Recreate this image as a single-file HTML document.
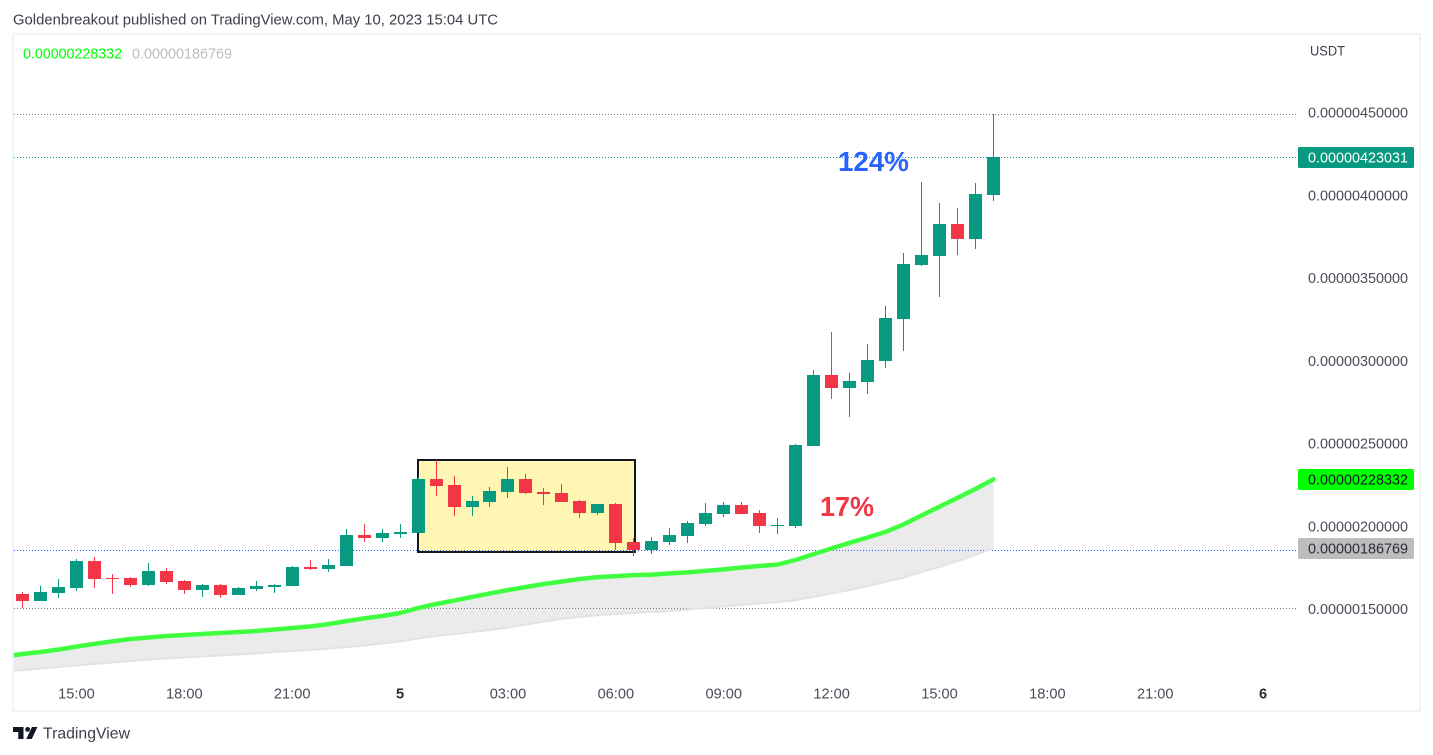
<!DOCTYPE html>
<html lang="en">
<head>
<meta charset="utf-8">
<title>TradingView chart</title>
<style>
html,body{margin:0;padding:0;background:#fff;width:1433px;height:755px;overflow:hidden}
svg{display:block;font-family:"Liberation Sans",sans-serif}
</style>
</head>
<body>
<svg id="chart" xmlns="http://www.w3.org/2000/svg" width="1433" height="755" viewBox="0 0 1433 755">
  <defs>
    <clipPath id="plot-clip"><rect x="14" y="35" width="1284" height="675"/></clipPath>
  </defs>
  <rect x="0" y="0" width="1433" height="755" fill="#ffffff"/>
  <text x="13" y="24.5" font-size="14.6" fill="#3d404a" textLength="485" lengthAdjust="spacingAndGlyphs">Goldenbreakout published on TradingView.com, May 10, 2023 15:04 UTC</text>
  <rect x="13" y="34" width="1407" height="677" fill="none" stroke="#f0f3fa" stroke-width="2"/>
  <text x="23" y="58.5" font-size="14.4" fill="#00ff00" textLength="99" lengthAdjust="spacingAndGlyphs">0.00000228332</text>
  <text x="132" y="58.5" font-size="14.4" fill="#bcbcbc" textLength="100" lengthAdjust="spacingAndGlyphs">0.00000186769</text>
  <text x="1310" y="55.5" font-size="14" fill="#3d404a" textLength="35" lengthAdjust="spacingAndGlyphs">USDT</text>
  <g id="layer-fill" clip-path="url(#plot-clip)"></g>
  <g id="layer-box"></g>
  <g id="layer-lines"></g>
  <g id="layer-candles"></g>
  <g id="layer-ma" clip-path="url(#plot-clip)"></g>
  <text x="838" y="171" font-size="28" font-weight="bold" fill="#2962ff" textLength="71" lengthAdjust="spacingAndGlyphs">124%</text>
  <text x="820" y="516" font-size="28" font-weight="bold" fill="#f23645" textLength="54" lengthAdjust="spacingAndGlyphs">17%</text>
  <g id="layer-price-axis"></g>
  <g id="layer-time-axis"></g>
  <g>
    <path fill="#131722" d="M13 727h10.5v12h-5.2v-7H13z"/>
    <circle cx="27.6" cy="729.4" r="2.4" fill="#131722"/>
    <path fill="#131722" d="M32 727h5.4l-5.6 12h-5.6z"/>
    <text x="43" y="738.5" font-size="16" fill="#3d404a" textLength="87" lengthAdjust="spacingAndGlyphs">TradingView</text>
  </g>
</svg>
<script>
// Prices in units of 1e-8 USDT, one entry per 30-minute bar.
const opens = [159.1,154.8,159.7,162.7,179.0,168.7,168.7,164.5,173.0,166.9,161.5,164.5,158.5,162.1,163.3,163.9,175.4,174.2,176.0,194.7,192.9,195.3,195.9,228.5,224.9,211.6,214.7,220.7,228.5,220.7,220.1,215.3,208.0,213.4,190.5,185.6,190.5,194.1,201.4,207.4,212.8,208.0,200.2,200.2,248.5,291.4,283.5,287.2,299.8,325.2,357.9,363.3,382.6,373.6,400.1];
const highs = [160.3,163.9,168.1,180.2,181.4,171.1,169.3,177.8,174.8,167.5,165.1,165.1,163.3,166.9,165.1,176.0,179.6,180.2,198.3,201.4,198.3,201.4,229.8,240.0,230.4,218.3,223.7,235.8,231.6,223.1,225.5,215.9,213.4,214.0,192.9,193.5,198.9,203.2,214.0,214.7,214.7,209.8,205.0,249.7,294.4,317.4,292.6,310.1,333.1,365.1,408.0,395.3,392.3,407.4,448.8];
const lows = [150.4,154.8,156.6,160.9,162.7,159.1,163.3,163.9,165.1,159.1,157.3,156.6,158.5,160.9,159.7,163.9,173.6,172.4,176.0,190.5,190.5,192.9,195.9,218.3,206.2,206.2,211.6,217.1,219.5,212.8,214.7,205.0,206.8,185.6,182.0,183.2,188.7,189.9,200.2,205.6,207.4,195.9,195.3,198.9,248.5,276.9,266.0,279.9,295.6,305.9,357.2,338.5,363.9,367.5,396.5];
const closes = [154.8,160.3,163.3,179.0,168.1,168.1,164.5,173.0,166.3,161.5,164.5,158.5,162.7,163.9,164.5,175.4,174.2,176.6,194.7,192.9,195.9,196.5,228.5,224.3,211.6,215.3,221.3,228.5,220.1,219.5,214.7,208.0,213.4,189.9,185.6,191.1,194.7,202.0,208.0,212.8,207.4,200.2,200.8,249.1,291.4,283.5,287.8,300.5,325.8,358.5,363.9,382.6,373.6,400.7,423.03];
// Moving averages: first entry is the bar before the first candle (index -1).
const fastMa = [121.3,122.8,124.0,125.5,127.3,128.9,130.4,131.9,132.8,133.7,134.3,134.9,135.5,136.1,136.7,137.6,138.5,139.4,140.9,142.7,144.3,145.8,147.6,150.6,153.0,155.1,157.3,159.4,161.5,163.3,165.1,166.6,168.1,169.3,169.9,170.5,170.8,171.5,172.1,173.0,173.9,175.1,176.0,176.9,179.6,183.2,186.6,190.0,193.2,196.6,201.1,206.5,211.9,217.1,222.5,228.33];
const slowMa = [112.2,113.1,114.0,115.0,115.9,116.8,117.7,118.6,119.5,120.1,120.7,121.3,121.9,122.5,123.1,124.0,124.6,125.2,126.1,127.0,127.9,129.2,130.4,132.2,133.7,134.9,136.1,137.3,138.8,140.6,142.4,144.0,145.2,146.3,147.0,147.6,148.2,148.8,149.7,150.6,151.5,152.4,153.3,154.2,155.4,157.3,159.4,161.5,163.9,166.3,169.0,172.4,175.4,179.0,182.6,186.77];
const priceTicks = [450,400,350,300,250,200,150];
const priceTickLabels = ['0.00000450000','0.00000400000','0.00000350000','0.00000300000','0.00000250000','0.00000200000','0.00000150000'];
const timeTickBars = [3,9,15,21,27,33,39,45,51,57,63,69];
const timeTickLabels = ['15:00','18:00','21:00','5','03:00','06:00','09:00','12:00','15:00','18:00','21:00','6'];
const timeTickBold = ['5','6'];
const tagValues = [423.03,228.33,186.77];
const tagLabels = ['0.00000423031','0.00000228332','0.00000186769'];
const tagFills = ['#089981','#00ff00','#bdbdbd'];
const tagInks = ['#ffffff','#131722','#2a2e39'];
const dottedLevels = [448.8,423.03,185.6,150.4];
const dottedColors = ['#787b86','#089981','#2962ff','#787b86'];
const zoneBars = [22,34.07];
const zonePrices = [240.0,184.2];

const NS = 'http://www.w3.org/2000/svg';
const UP = '#089981';
const DOWN = '#f23645';
function xScale(i){ return 22.5 + 17.98 * i; }
function yScale(v){ return 609 - (v - 150) * 1.655; }
function make(tag, parent, attrs){
  const el = document.createElementNS(NS, tag);
  for (const k in attrs) el.setAttribute(k, attrs[k]);
  parent.appendChild(el);
  return el;
}

// Moving-average band and lines
const fillLayer = document.getElementById('layer-fill');
const maLayer = document.getElementById('layer-ma');
const fastPts = fastMa.map((v, i) => xScale(i - 1).toFixed(1) + ',' + yScale(v).toFixed(1));
const slowPts = slowMa.map((v, i) => xScale(i - 1).toFixed(1) + ',' + yScale(v).toFixed(1));
const band = make('polygon', fillLayer, {points: fastPts.concat(slowPts.slice().reverse()).join(' '), fill: '#ebebeb'});


const slowLine = make('polyline', maLayer, {points: slowPts.join(' '), fill: 'none', stroke: '#e3e3e3', 'stroke-width': 2, 'stroke-linejoin': 'round', 'stroke-linecap': 'round'});


const fastLine = make('polyline', maLayer, {points: fastPts.join(' '), fill: 'none', stroke: '#40ff40', 'stroke-width': 4.5, 'stroke-linejoin': 'round', 'stroke-linecap': 'round'});



// Highlighted consolidation zone
const boxLayer = document.getElementById('layer-box');
const zoneLeft = Math.round(xScale(zoneBars[0]));
const zoneRight = Math.round(xScale(zoneBars[1]));
const zoneTop = Math.round(yScale(zonePrices[0]));
const zoneBottom = Math.round(yScale(zonePrices[1]));
const zone = make('rect', boxLayer, {x: zoneLeft, y: zoneTop, width: zoneRight - zoneLeft, height: zoneBottom - zoneTop, fill: '#fff6b3', stroke: '#131722', 'stroke-width': 2});



// Dotted horizontal price lines
const lineLayer = document.getElementById('layer-lines');
dottedLevels.forEach((v, i) => {
  const y = Math.floor(yScale(v)) + 0.5;
  const line = make('line', lineLayer, {x1: 14, x2: 1298, y1: y, y2: y, stroke: dottedColors[i], 'stroke-width': 1, 'stroke-dasharray': '1 2'});
  
  
});

// Candles
const candleLayer = document.getElementById('layer-candles');
opens.forEach((o, i) => {
  const c = closes[i];
  const color = c >= o ? UP : DOWN;
  const left = Math.round(xScale(i) - 6.5);
  const top = Math.round(yScale(Math.max(o, c)));
  const bottom = Math.round(yScale(Math.min(o, c)));
  const wickTop = Math.round(yScale(highs[i]));
  const wickBottom = Math.round(yScale(lows[i]));
  const wick = make('rect', candleLayer, {x: left + 6, y: wickTop, width: 1, height: Math.max(1, wickBottom - wickTop), fill: color});
  
  
  const body = make('rect', candleLayer, {x: left, y: top, width: 13, height: Math.max(1, bottom - top), fill: color});
  
  
});

// Price axis
const priceAxis = document.getElementById('layer-price-axis');
priceTicks.forEach((v, i) => {
  const t = make('text', priceAxis, {x: 1308, y: yScale(v) + 5, 'font-size': 14.4, fill: '#4a4e59', textLength: 100, lengthAdjust: 'spacingAndGlyphs'});
  t.textContent = priceTickLabels[i];
  
  
});
tagValues.forEach((v, i) => {
  const cy = yScale(v);
  const r = make('rect', priceAxis, {x: 1298, y: Math.round(cy - 10.5), width: 116, height: 21, rx: 1.5, fill: tagFills[i]});
  
  
  const t = make('text', priceAxis, {x: 1308, y: Math.round(cy - 10.5) + 15.5, 'font-size': 14.4, fill: tagInks[i], textLength: 100, lengthAdjust: 'spacingAndGlyphs'});
  t.textContent = tagLabels[i];
  
  
});

// Time axis
const timeAxis = document.getElementById('layer-time-axis');
timeTickBars.forEach((b, i) => {
  const label = timeTickLabels[i];
  const bold = timeTickBold.indexOf(label) >= 0;
  const t = make('text', timeAxis, {x: xScale(b), y: 698.5, 'font-size': 14.6, 'text-anchor': 'middle', 'font-weight': bold ? 'bold' : 'normal', fill: bold ? '#2a2e39' : '#4a4e59'});
  t.textContent = label;
  
  
});
</script>
</body>
</html>
